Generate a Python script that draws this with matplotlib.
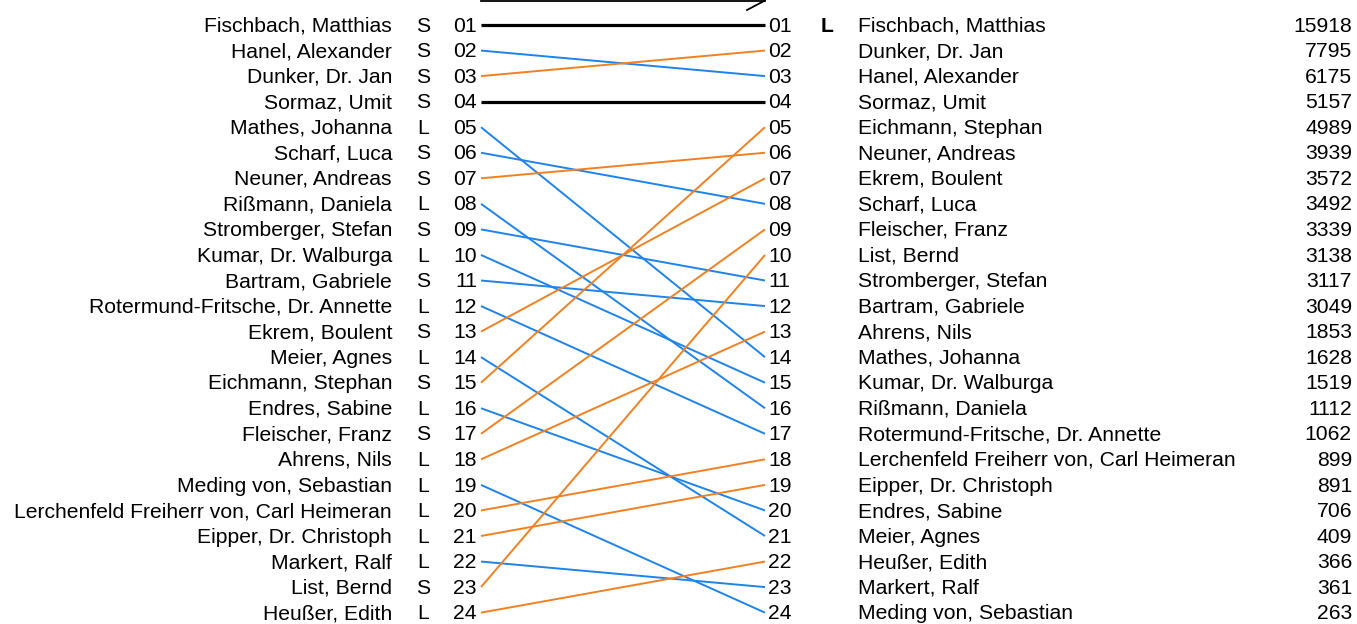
import matplotlib.pyplot as plt

plt.rcParams['font.family'] = ['Liberation Sans', 'DejaVu Sans']

# left side: order before, with S/L marker
left_names = ["Fischbach, Matthias", "Hanel, Alexander", "Dunker, Dr. Jan", "Sormaz, Umit",
              "Mathes, Johanna", "Scharf, Luca", "Neuner, Andreas", "Rißmann, Daniela",
              "Stromberger, Stefan", "Kumar, Dr. Walburga", "Bartram, Gabriele",
              "Rotermund-Fritsche, Dr. Annette", "Ekrem, Boulent", "Meier, Agnes",
              "Eichmann, Stephan", "Endres, Sabine", "Fleischer, Franz", "Ahrens, Nils",
              "Meding von, Sebastian", "Lerchenfeld Freiherr von, Carl Heimeran",
              "Eipper, Dr. Christoph", "Markert, Ralf", "List, Bernd", "Heußer, Edith"]
left_type = ["S", "S", "S", "S", "L", "S", "S", "L", "S", "L", "S", "L",
             "S", "L", "S", "L", "S", "L", "L", "L", "L", "L", "S", "L"]

# right side: order after, with values
right_names = ["Fischbach, Matthias", "Dunker, Dr. Jan", "Hanel, Alexander", "Sormaz, Umit",
               "Eichmann, Stephan", "Neuner, Andreas", "Ekrem, Boulent", "Scharf, Luca",
               "Fleischer, Franz", "List, Bernd", "Stromberger, Stefan", "Bartram, Gabriele",
               "Ahrens, Nils", "Mathes, Johanna", "Kumar, Dr. Walburga", "Rißmann, Daniela",
               "Rotermund-Fritsche, Dr. Annette", "Lerchenfeld Freiherr von, Carl Heimeran",
               "Eipper, Dr. Christoph", "Endres, Sabine", "Meier, Agnes", "Heußer, Edith",
               "Markert, Ralf", "Meding von, Sebastian"]
right_values = [15918, 7795, 6175, 5157, 4989, 3939, 3572, 3492, 3339, 3138, 3117, 3049,
                1853, 1628, 1519, 1112, 1062, 899, 891, 706, 409, 366, 361, 263]
right_marker = ["L"] + [""] * 23

BLUE = "#1f83e8"
ORANGE = "#f08122"

fig = plt.figure(figsize=(13.57, 6.24), dpi=100)
ax = fig.add_axes([0, 0, 1, 1])
ax.set_xlim(0, 1357)
ax.set_ylim(624, 0)
ax.axis('off')

y0, dy = 25, 25.55
fs = 15.2
base = 6.6  # baseline offset so the caps sit centred on the row
x1, x2 = 481, 765

def ry(r):
    return y0 + (r - 1) * dy

for i, name in enumerate(left_names):
    y = ry(i + 1) + base
    ax.text(392, y, name, ha='right', va='baseline', fontsize=fs)
    ax.text(423, y, left_type[i], ha='center', va='baseline', fontsize=fs)
    ax.text(477, y, f"{i + 1:02d}", ha='right', va='baseline', fontsize=fs)

    j = right_names.index(name)
    if j == i:
        color, lw = 'black', 2.3
    elif j > i:
        color, lw = BLUE, 1.4
    else:
        color, lw = ORANGE, 1.4
    ax.plot([x1, x2], [ry(i + 1), ry(j + 1)], color=color, lw=lw, solid_capstyle='butt')

for j, name in enumerate(right_names):
    y = ry(j + 1) + base
    ax.text(768, y, f"{j + 1:02d}", ha='left', va='baseline', fontsize=fs)
    if right_marker[j]:
        ax.text(821, y, right_marker[j], ha='left', va='baseline', fontsize=fs,
                fontweight='bold')
    ax.text(858, y, name, ha='left', va='baseline', fontsize=fs)
    ax.text(1352, y, str(right_values[j]), ha='right', va='baseline', fontsize=fs)

# direction arrow at the top (partly cut off)
ax.plot([x1, x2], [0.5, 0.5], color='black', lw=1.3)
ax.plot([747, x2, 747], [10, 0.5, -9], color='black', lw=1.3)

fig.savefig("out.png", dpi=100)
